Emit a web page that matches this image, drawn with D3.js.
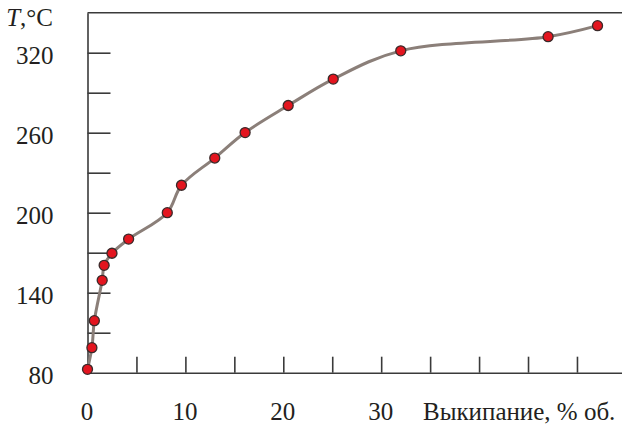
<!DOCTYPE html>
<html><head><meta charset="utf-8">
<script src="https://cdn.jsdelivr.net/npm/d3@7"></script>
<style>body{margin:0;background:#fff}svg{display:block}</style>
</head><body><svg id="c" width="622" height="430"></svg>
<script>
const boilOff = [0, 0.45, 0.7, 1.5, 1.7, 2.5, 4.2, 8.15, 9.6, 13.0, 16.1, 20.5, 25.1, 32.0, 47.05, 52.1];
const temperature = [82.5, 98.8, 119, 149.3, 160.5, 169.6, 180.2, 200, 220.6, 241, 260.1, 280.4, 300.2, 321.4, 332, 340.3];
const xTicks = [5, 10, 15, 20, 25, 30, 35, 40, 45, 50];
const xTickLabels = [0, 10, 20, 30];
const yTicks = [110, 140, 170, 200, 230, 260, 290, 320];
const yTickLabels = [80, 140, 200, 260, 320];
const xTitle = "Выкипание, % об.";

const FONT = "'Liberation Serif', 'Times New Roman', 'DejaVu Serif', serif";
const FS = "25px";
const svg = d3.select("#c").style("font-family", FONT);
const x = d3.scaleLinear().domain([0, 54.6]).range([87.5, 622]);
const y = d3.scaleLinear().domain([80, 350]).range([372.7, 12.7]);
const axisColor = "#3a3a3a";
const txtColor = "#231f20";

// x axis with inward ticks
const gx = svg.append("g").attr("transform", `translate(0,${y(80)})`)
  .call(d3.axisBottom(x).tickValues(xTicks).tickSizeInner(-16).tickSizeOuter(0).tickFormat(""));
gx.select(".domain").attr("stroke", axisColor).attr("stroke-width", 1.6);
gx.selectAll(".tick line").attr("stroke", axisColor).attr("stroke-width", 1.6);
gx.selectAll(".tick text").remove();
// x labels
const gxl = svg.append("g").attr("transform", `translate(0,${y(80)})`)
  .call(d3.axisBottom(x).tickValues(xTickLabels).tickSize(0).tickPadding(0).tickFormat(d3.format("d")));
gxl.attr("font-family", null).attr("font-size", null);
gxl.select(".domain").remove();
gxl.selectAll(".tick text").attr("dy", null).attr("y", 47).attr("dx", "-1")
  .style("font-family", FONT).style("font-size", FS).attr("fill", txtColor);

svg.append("text").attr("x", 423).attr("y", 420)
  .style("font-family", FONT).style("font-size", FS).attr("fill", txtColor).text(xTitle);

// top border
svg.append("line").attr("x1", x(0)).attr("x2", 622).attr("y1", y(350)).attr("y2", y(350))
  .attr("stroke", axisColor).attr("stroke-width", 1.6);

// y axis with inward ticks
const gy = svg.append("g").attr("transform", `translate(${x(0)},0)`)
  .call(d3.axisLeft(y).tickValues(yTicks).tickSizeInner(-23).tickSizeOuter(0).tickFormat(""));
gy.select(".domain").attr("stroke", axisColor).attr("stroke-width", 1.6);
gy.selectAll(".tick line").attr("stroke", axisColor).attr("stroke-width", 1.6);
gy.selectAll(".tick text").remove();
const gyl = svg.append("g").attr("transform", `translate(${x(0)},0)`)
  .call(d3.axisLeft(y).tickValues(yTickLabels).tickSize(0).tickPadding(34).tickFormat(d3.format("d")));
gyl.attr("font-family", null).attr("font-size", null);
gyl.select(".domain").remove();
gyl.selectAll(".tick text").attr("dy", "0.44em")
  .style("font-family", FONT).style("font-size", FS).attr("fill", txtColor);

// y title
const yt = svg.append("text").attr("x", 53).attr("y", 26).attr("text-anchor", "end")
  .style("font-family", FONT).style("font-size", FS).attr("fill", txtColor);
yt.append("tspan").style("font-style", "italic").text("T");
yt.append("tspan").text(",°C");

// curve
const pts = boilOff.map((v, i) => [v, temperature[i]]);
svg.append("path").datum(pts)
  .attr("d", d3.line().x(d => x(d[0])).y(d => y(d[1])).curve(d3.curveCatmullRom.alpha(0.5)))
  .attr("fill", "none").attr("stroke", "#8b7f79").attr("stroke-width", 3);

svg.append("g").selectAll("circle").data(pts).join("circle")
  .attr("cx", d => x(d[0])).attr("cy", d => y(d[1])).attr("r", 5)
  .attr("fill", "#e3151f").attr("stroke", "#3a2a2a").attr("stroke-width", 1.3);
</script></body></html>
